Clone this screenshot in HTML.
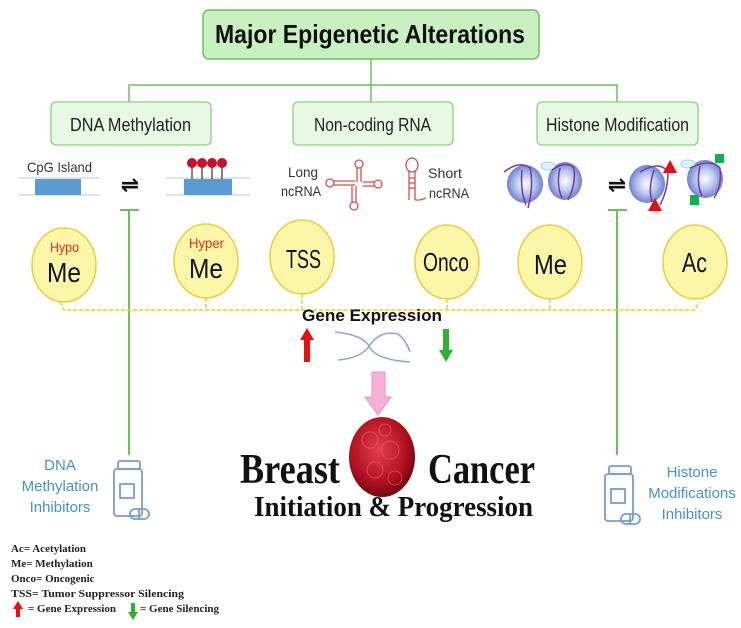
<!DOCTYPE html>
<html><head><meta charset="utf-8"><style>
html,body{margin:0;padding:0;background:#fff;}
svg{display:block;}
.n{font-family:"Liberation Sans Narrow","Liberation Sans",sans-serif;}
.s{font-family:"Liberation Serif",serif;}
</style></head><body>
<svg width="741" height="628" viewBox="0 0 741 628" xmlns="http://www.w3.org/2000/svg">
<defs>
<radialGradient id="nuc" cx="50%" cy="50%" r="55%"><stop offset="0" stop-color="#ffffff"/><stop offset="0.5" stop-color="#b8c4ee"/><stop offset="1" stop-color="#5f70c8"/></radialGradient>
<radialGradient id="tum" cx="45%" cy="40%" r="60%"><stop offset="0" stop-color="#e04050"/><stop offset="0.7" stop-color="#b01020"/><stop offset="1" stop-color="#700810"/></radialGradient>
</defs>
<rect x="203" y="10" width="336" height="49" rx="6" fill="#c8f0c0" stroke="#6cc060" stroke-width="1.5"/>
<text x="215" y="43" class="n" font-weight="bold" font-size="26" fill="#111" textLength="310" lengthAdjust="spacingAndGlyphs">Major Epigenetic Alterations</text>
<g stroke="#6cc060" stroke-width="1.5" fill="none">
<line x1="371" y1="59" x2="371" y2="102"/>
<polyline points="129,102 129,85 617,85 617,102"/>
</g>
<g fill="#e8fae4" stroke="#8ed080" stroke-width="1.3">
<rect x="51" y="102" width="160" height="43" rx="5"/>
<rect x="293" y="102" width="160" height="43" rx="5"/>
<rect x="537" y="102" width="161" height="43" rx="5"/>
</g>
<g class="n" font-size="18" fill="#222">
<text x="70" y="131" textLength="121" lengthAdjust="spacingAndGlyphs">DNA Methylation</text>
<text x="314" y="131" textLength="117" lengthAdjust="spacingAndGlyphs">Non-coding RNA</text>
<text x="546" y="131" textLength="143" lengthAdjust="spacingAndGlyphs">Histone Modification</text>
</g>
<text x="27" y="172" class="n" font-size="14" fill="#333" textLength="65" lengthAdjust="spacingAndGlyphs">CpG Island</text>
<g stroke="#b8c8d8" stroke-width="1"><line x1="18" y1="178" x2="100" y2="178"/><line x1="18" y1="195" x2="100" y2="195"/>
<line x1="166" y1="178" x2="250" y2="178"/><line x1="166" y1="195" x2="250" y2="195"/></g>
<rect x="35" y="179" width="46" height="16" fill="#5b9bd5"/>
<rect x="184" y="179" width="48" height="16" fill="#5b9bd5"/>
<g stroke="#333" stroke-width="1.2"><line x1="192" y1="164" x2="192" y2="179"/><line x1="202" y1="164" x2="202" y2="179"/><line x1="212" y1="164" x2="212" y2="179"/><line x1="222" y1="164" x2="222" y2="179"/></g>
<g fill="#c8102e"><circle cx="192" cy="163" r="5"/><circle cx="202" cy="163" r="5"/><circle cx="212" cy="163" r="5"/><circle cx="222" cy="163" r="5"/></g>
<text x="130" y="192" text-anchor="middle" font-family="DejaVu Sans" font-size="22" font-weight="bold" fill="#111">⇌</text>
<text x="617" y="192" text-anchor="middle" font-family="DejaVu Sans" font-size="22" font-weight="bold" fill="#111">⇌</text>
<g stroke="#6cc060" stroke-width="2"><line x1="120" y1="210" x2="139" y2="210"/><line x1="129" y1="210" x2="129" y2="455"/>
<line x1="608" y1="210" x2="627" y2="210"/><line x1="617" y1="210" x2="617" y2="455"/></g>
<g class="n" font-size="14" fill="#333"><text x="288" y="177" textLength="30" lengthAdjust="spacingAndGlyphs">Long</text><text x="281" y="196" textLength="40" lengthAdjust="spacingAndGlyphs">ncRNA</text><text x="428" y="178" textLength="34" lengthAdjust="spacingAndGlyphs">Short</text><text x="429" y="198" textLength="40" lengthAdjust="spacingAndGlyphs">ncRNA</text></g>
<g stroke="#d05050" stroke-width="1.3" fill="none">
<circle cx="359" cy="164" r="4"/><line x1="357" y1="168" x2="357" y2="182"/><line x1="361" y1="168" x2="361" y2="182"/>
<circle cx="330" cy="183" r="4"/><line x1="334" y1="181" x2="355" y2="181"/><line x1="334" y1="185" x2="355" y2="185"/>
<circle cx="378" cy="184" r="4"/><line x1="363" y1="182" x2="374" y2="182"/><line x1="363" y1="186" x2="374" y2="186"/>
<circle cx="354" cy="206" r="4"/><line x1="352" y1="186" x2="352" y2="202"/><line x1="356" y1="186" x2="356" y2="202"/>
<ellipse cx="412" cy="165" rx="6" ry="7"/><line x1="409" y1="171" x2="409" y2="200"/><line x1="415" y1="171" x2="415" y2="200"/><polyline points="415,200 420,200 426,198"/>
<line x1="409" y1="178" x2="415" y2="178"/><line x1="409" y1="183" x2="415" y2="183"/><line x1="409" y1="188" x2="415" y2="188"/>
</g>
<g>
<ellipse cx="525" cy="184" rx="18" ry="19" fill="url(#nuc)"/><ellipse cx="565" cy="181" rx="17" ry="19" fill="url(#nuc)"/>
<ellipse cx="548" cy="166" rx="7" ry="4" fill="#d8f4f4" stroke="#a0d8d8"/>
<ellipse cx="647" cy="184" rx="18" ry="19" fill="url(#nuc)"/><ellipse cx="705" cy="179" rx="18" ry="19" fill="url(#nuc)"/>
<ellipse cx="688" cy="164" rx="7" ry="4" fill="#d8f4f4" stroke="#a0d8d8"/>
<g stroke="#7a3a9a" stroke-width="1.5" fill="none">
<path d="M504 172 Q520 160 530 168 Q534 185 528 208 M522 170 Q520 190 526 205 M552 170 Q566 160 574 168 Q576 185 568 200 M560 168 Q556 185 562 198"/>
<path d="M640 172 Q660 160 668 172 Q668 190 660 205 M654 170 Q648 188 652 202 M690 168 Q712 158 720 168 Q722 186 714 198 M700 166 Q696 184 702 196"/>
</g>
<polygon points="663,173 670,160 677,173" fill="#e01010"/><polygon points="648,211 655,198 662,211" fill="#e01010"/>
<rect x="715" y="154" width="9" height="9" fill="#10b050"/><rect x="690" y="195" width="9" height="10" fill="#10b050"/>
</g>
<g stroke="#e8d020" stroke-width="1.5" stroke-dasharray="4,2" fill="none">
<polyline points="60,302 64,310 695,310 699,302"/>
<line x1="206" y1="298" x2="206" y2="310"/><line x1="302" y1="294" x2="302" y2="310"/><line x1="447" y1="299" x2="447" y2="310"/><line x1="550" y1="299" x2="550" y2="310"/>
</g>
<g fill="#fcf6a8" stroke="#e8d040" stroke-width="1.5">
<ellipse cx="64" cy="265" rx="32" ry="37"/><ellipse cx="206" cy="261" rx="32" ry="37"/><ellipse cx="302" cy="257" rx="32" ry="37"/>
<ellipse cx="447" cy="262" rx="32" ry="37"/><ellipse cx="550" cy="262" rx="32" ry="37"/><ellipse cx="695" cy="262" rx="32" ry="37"/>
</g>
<g class="n">
<text x="50" y="252" font-size="14" fill="#e03020" textLength="29" lengthAdjust="spacingAndGlyphs">Hypo</text><text x="47" y="282" font-size="28" fill="#111" textLength="34" lengthAdjust="spacingAndGlyphs">Me</text>
<text x="189" y="248" font-size="14" fill="#e03020" textLength="35" lengthAdjust="spacingAndGlyphs">Hyper</text><text x="189" y="278" font-size="28" fill="#111" textLength="34" lengthAdjust="spacingAndGlyphs">Me</text>
<text x="286" y="268" font-size="26" fill="#111" textLength="35" lengthAdjust="spacingAndGlyphs">TSS</text>
<text x="423" y="271" font-size="26" fill="#111" textLength="46" lengthAdjust="spacingAndGlyphs">Onco</text>
<text x="534" y="274" font-size="28" fill="#111" textLength="33" lengthAdjust="spacingAndGlyphs">Me</text>
<text x="682" y="272" font-size="28" fill="#111" textLength="25" lengthAdjust="spacingAndGlyphs">Ac</text>
</g>
<text x="302" y="321" class="n" font-weight="bold" font-size="17" fill="#111" textLength="140" lengthAdjust="spacingAndGlyphs">Gene Expression</text>
<polygon points="307,328 314,340 310,340 310,362 304,362 304,340 300,340" fill="#e81010"/>
<polygon points="446,362 453,350 449,350 449,329 443,329 443,350 439,350" fill="#30b030"/>
<g stroke="#6a90c8" stroke-width="1.5" fill="none" opacity="0.8">
<path d="M335 332 Q365 335 370 348 Q378 360 410 362"/><path d="M338 360 Q362 358 370 345 Q380 330 398 334 Q406 340 410 352"/>
</g>
<polygon points="372,372 385,372 385,397 391,397 378,415 365,397 372,397" fill="#f8b0d8" stroke="#f090c0"/>
<ellipse cx="382" cy="457" rx="33" ry="40" fill="url(#tum)"/>
<g fill="none" stroke="#f06070" stroke-width="1" opacity="0.6"><circle cx="370" cy="440" r="8"/><circle cx="390" cy="450" r="9"/><circle cx="375" cy="470" r="8"/><circle cx="395" cy="478" r="7"/><circle cx="385" cy="430" r="6"/></g>
<g class="s" font-weight="bold" fill="#111">
<text x="240" y="483" font-size="42" textLength="100" lengthAdjust="spacingAndGlyphs">Breast</text>
<text x="428" y="483" font-size="42" textLength="107" lengthAdjust="spacingAndGlyphs">Cancer</text>
<text x="254" y="516" font-size="28" textLength="279" lengthAdjust="spacingAndGlyphs">Initiation &amp; Progression</text>
</g>
<g class="n" font-size="15" fill="#4a90c8" text-anchor="middle">
<text x="60" y="470">DNA</text><text x="60" y="491">Methylation</text><text x="60" y="512">Inhibitors</text>
<text x="692" y="477">Histone</text><text x="692" y="498">Modifications</text><text x="692" y="519">Inhibitors</text>
</g>
<g fill="none" stroke="#7a9ccc" stroke-width="1.8">
<rect x="118" y="461" width="22" height="8" rx="2"/><rect x="114" y="469" width="28" height="47" rx="3"/><rect x="120" y="484" width="14" height="14"/><rect x="130" y="509" width="19" height="10" rx="5"/><line x1="139" y1="509" x2="139" y2="519"/>
<rect x="609" y="466" width="22" height="8" rx="2"/><rect x="605" y="474" width="28" height="47" rx="3"/><rect x="611" y="489" width="14" height="14"/><rect x="621" y="514" width="19" height="10" rx="5"/><line x1="630" y1="514" x2="630" y2="524"/>
</g>
<g class="s" font-weight="bold" font-size="11" fill="#222">
<text x="11" y="552">Ac= Acetylation</text>
<text x="11" y="567">Me= Methylation</text>
<text x="11" y="582">Onco= Oncogenic</text>
<text x="11" y="597" textLength="173" lengthAdjust="spacingAndGlyphs">TSS= Tumor Suppressor Silencing</text>
<text x="28" y="612">= Gene Expression</text>
<text x="140" y="612">= Gene Silencing</text>
</g>
<polygon points="18,601 23,609 20,609 20,617 16,617 16,609 13,609" fill="#e81010"/>
<polygon points="133,620 138,612 135,612 135,603 131,603 131,612 128,612" fill="#30b030"/>
</svg>
</body></html>
